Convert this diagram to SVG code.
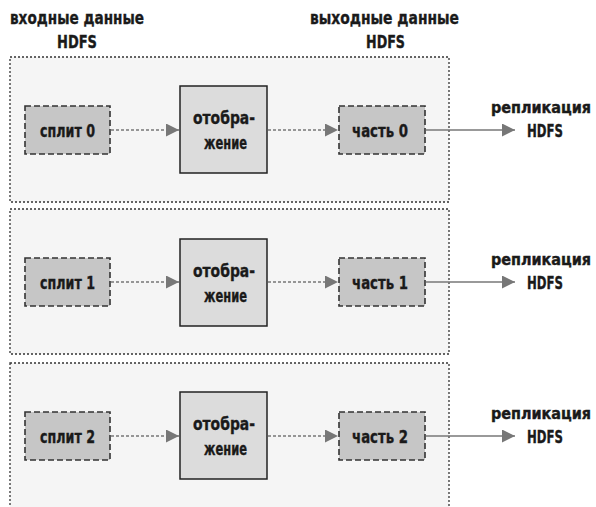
<svg xmlns="http://www.w3.org/2000/svg" width="596" height="507" viewBox="0 0 596 507">
<defs>
<style>
text{font-family:"DejaVu Sans Condensed","DejaVu Sans",sans-serif;font-stretch:condensed;font-weight:bold;font-size:18px;fill:#1a1a1a;stroke:#1a1a1a;stroke-width:0.35;text-anchor:middle}
text.rep{font-size:16px;stroke-width:0.4}
.panel{fill:#f5f5f5;stroke:#333;stroke-width:1.3;stroke-dasharray:2 2}
.split{fill:#c6c6c6;stroke:#333;stroke-width:1.6;stroke-dasharray:6 3}
.map{fill:#dcdcdc;stroke:#222;stroke-width:1.5}
.dot{stroke:#777;stroke-width:1.4;stroke-dasharray:3 2;fill:none}
.solid{stroke:#777;stroke-width:1.6;fill:none}
</style>
<marker id="ah" viewBox="0 0 10 10" refX="10" refY="5" markerWidth="13" markerHeight="13" markerUnits="userSpaceOnUse" orient="auto">
<path d="M0,0 L10,5 L0,10 Z" fill="#777"/>
</marker>
</defs>
<rect width="596" height="507" fill="#fff"/>
<g id="titles">
<text x="77" y="24" textLength="134" lengthAdjust="spacingAndGlyphs">входные данные</text>
<text x="77" y="48" textLength="40" lengthAdjust="spacingAndGlyphs">HDFS</text>
<text x="384.5" y="24" textLength="149" lengthAdjust="spacingAndGlyphs">выходные данные</text>
<text x="385.5" y="48" textLength="39" lengthAdjust="spacingAndGlyphs">HDFS</text>
</g>
<g id="panels">
<rect id="panel0" class="panel" x="10" y="57" width="439" height="145"/>
<rect id="panel1" class="panel" x="10" y="209" width="439" height="145"/>
<rect id="panel2" class="panel" x="10" y="363" width="439" height="150"/>
</g>
<g id="connectors">
<line class="dot" x1="111" y1="130" x2="179" y2="130" marker-end="url(#ah)"/>
<line class="dot" x1="268" y1="130" x2="338" y2="130" marker-end="url(#ah)"/>
<line class="solid" x1="426" y1="130" x2="515" y2="130" marker-end="url(#ah)"/>
<line class="dot" x1="111" y1="282" x2="179" y2="282" marker-end="url(#ah)"/>
<line class="dot" x1="268" y1="282" x2="338" y2="282" marker-end="url(#ah)"/>
<line class="solid" x1="426" y1="282" x2="515" y2="282" marker-end="url(#ah)"/>
<line class="dot" x1="111" y1="436" x2="179" y2="436" marker-end="url(#ah)"/>
<line class="dot" x1="268" y1="436" x2="338" y2="436" marker-end="url(#ah)"/>
<line class="solid" x1="426" y1="436" x2="515" y2="436" marker-end="url(#ah)"/>
</g>
<g id="split0"><rect class="split" x="25" y="106" width="85" height="48"/><text x="67.5" y="137" textLength="55" lengthAdjust="spacingAndGlyphs">сплит 0</text></g>
<g id="map0"><rect class="map" x="180" y="86" width="87" height="87"/><text x="224" y="124" textLength="62" lengthAdjust="spacingAndGlyphs">отобра-</text><text x="225.5" y="149" textLength="43" lengthAdjust="spacingAndGlyphs">жение</text></g>
<g id="part0"><rect class="split" x="339" y="106" width="86" height="48"/><text x="380" y="137" textLength="56" lengthAdjust="spacingAndGlyphs">часть 0</text></g>
<g id="repl0"><text class="rep" x="541" y="113">репликация</text><text x="545" y="137" textLength="36" lengthAdjust="spacingAndGlyphs">HDFS</text></g>

<g id="split1"><rect class="split" x="25" y="258" width="85" height="48"/><text x="67.5" y="289" textLength="55" lengthAdjust="spacingAndGlyphs">сплит 1</text></g>
<g id="map1"><rect class="map" x="180" y="239" width="87" height="87"/><text x="224" y="277" textLength="62" lengthAdjust="spacingAndGlyphs">отобра-</text><text x="225.5" y="302" textLength="43" lengthAdjust="spacingAndGlyphs">жение</text></g>
<g id="part1"><rect class="split" x="339" y="258" width="86" height="48"/><text x="380" y="289" textLength="56" lengthAdjust="spacingAndGlyphs">часть 1</text></g>
<g id="repl1"><text class="rep" x="541" y="265">репликация</text><text x="545" y="289" textLength="36" lengthAdjust="spacingAndGlyphs">HDFS</text></g>

<g id="split2"><rect class="split" x="25" y="412" width="85" height="48"/><text x="67.5" y="443" textLength="55" lengthAdjust="spacingAndGlyphs">сплит 2</text></g>
<g id="map2"><rect class="map" x="180" y="392" width="87" height="87"/><text x="224" y="430" textLength="62" lengthAdjust="spacingAndGlyphs">отобра-</text><text x="225.5" y="455" textLength="43" lengthAdjust="spacingAndGlyphs">жение</text></g>
<g id="part2"><rect class="split" x="339" y="412" width="86" height="48"/><text x="380" y="443" textLength="56" lengthAdjust="spacingAndGlyphs">часть 2</text></g>
<g id="repl2"><text class="rep" x="541" y="419">репликация</text><text x="545" y="443" textLength="36" lengthAdjust="spacingAndGlyphs">HDFS</text></g>
</svg>
